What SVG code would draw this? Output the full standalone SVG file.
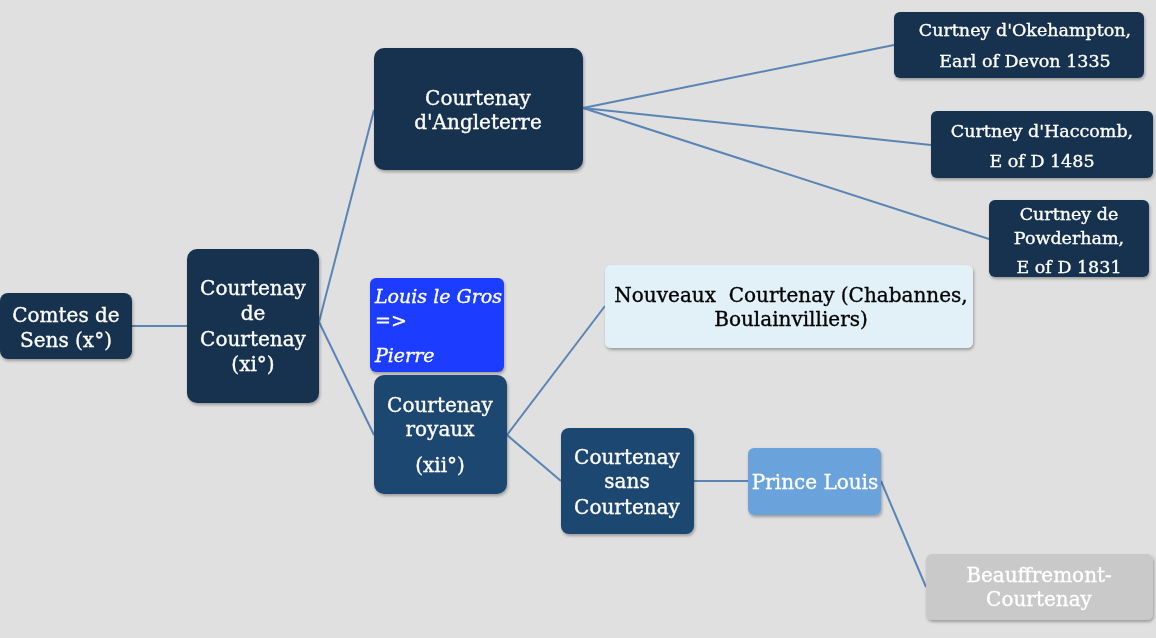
<svg xmlns="http://www.w3.org/2000/svg" width="1156" height="638" viewBox="0 0 1156 638">
<defs>
<filter id="sh" x="-10%" y="-10%" width="125%" height="130%">
<feDropShadow dx="1" dy="2" stdDeviation="1.5" flood-color="#000" flood-opacity="0.3"/>
</filter>
</defs>
<style>
.n{filter:url(#sh);}
.d{fill:#17324f;}
.m{fill:#1f4770;}
.t{font-family:"DejaVu Serif","Liberation Serif",serif;font-size:20px;fill:#fff;stroke:#fff;stroke-width:0.35px;text-anchor:middle;white-space:pre;}
.s{font-size:17.5px;}
.k{fill:#000;stroke:#000;}
.i{font-style:italic;text-anchor:start;font-size:19px;}
.c line{stroke:#5a84b4;stroke-width:2;}
</style>
<rect width="1156" height="638" fill="#e0e0e0"/>
<g class="c" id="connectors">
<line x1="132" y1="326" x2="187" y2="326"/>
<line x1="319" y1="322" x2="374" y2="110"/>
<line x1="319" y1="322" x2="374" y2="435"/>
<line x1="583" y1="108" x2="894" y2="45"/>
<line x1="583" y1="108" x2="931" y2="145"/>
<line x1="583" y1="108" x2="989" y2="239"/>
<line x1="507" y1="435" x2="605" y2="306"/>
<line x1="507" y1="435" x2="561" y2="481"/>
<line x1="694" y1="481" x2="748" y2="481"/>
<line x1="881" y1="481" x2="926" y2="587"/>
</g>
<g id="comtes" class="n">
<rect x="0" y="293" width="132" height="66" rx="8" class="d"/>
<text class="t" x="66" y="322">Comtes de</text>
<text class="t" x="66" y="347">Sens (x°)</text>
</g>
<g id="cdc" class="n">
<rect x="187" y="249" width="132" height="154" rx="10" class="d"/>
<text class="t" x="253" y="295">Courtenay</text>
<text class="t" x="253" y="320">de</text>
<text class="t" x="253" y="346">Courtenay</text>
<text class="t" x="253" y="371">(xi°)</text>
</g>
<g id="angleterre" class="n">
<rect x="374" y="48" width="209" height="122" rx="10" class="d"/>
<text class="t" x="478" y="105">Courtenay</text>
<text class="t" x="478" y="129">d'Angleterre</text>
</g>
<g id="okehampton" class="n">
<rect x="894" y="12" width="250" height="66" rx="6" class="d"/>
<text class="t s" x="1025" y="36">Curtney d'Okehampton,</text>
<text class="t s" x="1025" y="67">Earl of Devon 1335</text>
</g>
<g id="haccomb" class="n">
<rect x="931" y="111" width="222" height="67" rx="6" class="d"/>
<text class="t s" x="1042" y="137">Curtney d'Haccomb,</text>
<text class="t s" x="1042" y="167">E of D 1485</text>
</g>
<g id="powderham" class="n">
<rect x="989" y="200" width="160" height="77" rx="6" class="d"/>
<text class="t s" x="1069" y="220">Curtney de</text>
<text class="t s" x="1069" y="244">Powderham,</text>
<text class="t s" x="1069" y="273">E of D 1831</text>
</g>
<g id="louis" class="n">
<rect x="370" y="278" width="134" height="94" rx="6" fill="#1a3cff"/>
<text class="t i" x="375" y="303">Louis le Gros</text>
<text class="t i" x="375" y="327">=&gt;</text>
<text class="t i" x="375" y="362">Pierre</text>
</g>
<g id="royaux" class="n">
<rect x="374" y="375" width="133" height="119" rx="10" class="m"/>
<text class="t" x="440" y="412">Courtenay</text>
<text class="t" x="440" y="436">royaux</text>
<text class="t" x="440" y="472">(xii°)</text>
</g>
<g id="nouveaux" class="n">
<rect x="605" y="265" width="368" height="83" rx="6" fill="#e2f0f8"/>
<text class="t k" x="791" y="302">Nouveaux  Courtenay (Chabannes,</text>
<text class="t k" x="791" y="326">Boulainvilliers)</text>
</g>
<g id="sans" class="n">
<rect x="561" y="428" width="133" height="106" rx="8" class="m"/>
<text class="t" x="627" y="464">Courtenay</text>
<text class="t" x="627" y="488">sans</text>
<text class="t" x="627" y="514">Courtenay</text>
</g>
<g id="prince" class="n">
<rect x="748" y="448" width="133" height="67" rx="6" fill="#6aa2dc"/>
<text class="t" x="815" y="489">Prince Louis</text>
</g>
<g id="beauffremont" class="n">
<rect x="926" y="554" width="227" height="66" rx="6" fill="#c9c9c9"/>
<text class="t" x="1039" y="582">Beauffremont-</text>
<text class="t" x="1039" y="606">Courtenay</text>
</g>
</svg>
